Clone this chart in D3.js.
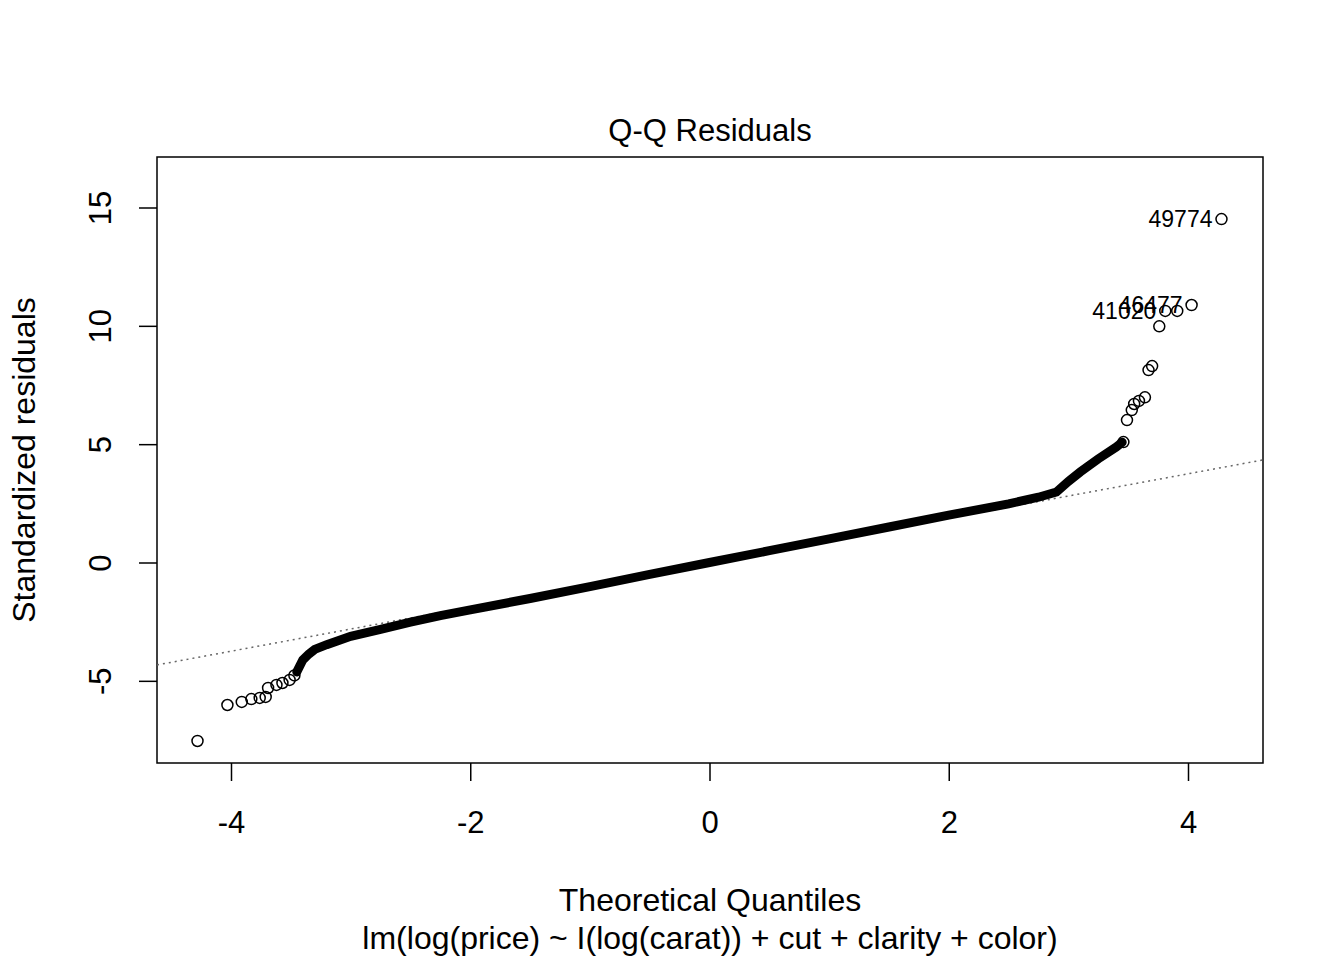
<!DOCTYPE html><html><head><script src="https://cdn.jsdelivr.net/npm/d3@7"></script>
<style>body{margin:0;background:#fff}text{font-family:"Liberation Sans",Arial,sans-serif}</style></head><body><svg id="c" width="1344" height="960"></svg><script>
const bandX=[-3.45,-3.4,-3.35,-3.3,-3.2,-3.0,-2.75,-2.5,-2.25,-2,-1.5,-1,-0.5,0,0.5,1,1.5,2,2.5,2.75,2.9,3.0,3.1,3.25,3.4,3.45];
const bandY=[-4.6,-4.1,-3.85,-3.65,-3.45,-3.1,-2.8,-2.5,-2.22,-1.98,-1.5,-1.0,-0.48,0.02,0.52,1.02,1.52,2.02,2.5,2.78,3.0,3.45,3.85,4.4,4.9,5.1];
const ptX=[-4.28,-4.03,-3.91,-3.83,-3.76,-3.71,-3.69,-3.62,-3.57,-3.51,-3.47,3.46,3.49,3.53,3.55,3.59,3.64,3.67,3.70,3.76,3.81,3.91,4.03,4.28];
const ptY=[-7.52,-6.0,-5.87,-5.75,-5.70,-5.66,-5.28,-5.15,-5.07,-4.94,-4.75,5.11,6.04,6.46,6.72,6.85,7.0,8.15,8.32,10.0,10.65,10.65,10.9,14.53];
const labels=[{x:4.28,y:14.53,t:"49774"},{x:4.03,y:10.9,t:"46477"},{x:3.81,y:10.65,t:"41020"}];
const xTicks=[-4,-2,0,2,4], yTicks=[-5,0,5,10,15];
const qqA=0.02,qqB=0.937;
const svg=d3.select("#c");
const L=157,R=1263,T=157,B=763;
const x=d3.scaleLinear().domain([-4,4]).range([231,1188]);
const y=d3.scaleLinear().domain([0,15]).range([563,208]);
svg.append("rect").attr("x",L).attr("y",T).attr("width",R-L).attr("height",B-T).attr("fill","none").attr("stroke","#000").attr("stroke-width",1.5);
svg.append("clipPath").attr("id","cp").append("rect").attr("x",L).attr("y",T).attr("width",R-L).attr("height",B-T);
const g=svg.append("g").attr("clip-path","url(#cp)");
const x0=x.invert(L),x1=x.invert(R);
g.append("line").attr("x1",L).attr("x2",R).attr("y1",y(qqA+qqB*x0)).attr("y2",y(qqA+qqB*x1)).attr("stroke","#666").attr("stroke-width",1.5).attr("stroke-dasharray","2,4");
g.append("path").datum(bandX.map((d,i)=>[d,bandY[i]])).attr("d",d3.line().x(d=>x(d[0])).y(d=>y(d[1]))).attr("fill","none").attr("stroke","#000").attr("stroke-width",9).attr("stroke-linecap","round");
g.selectAll("circle").data(ptX.map((d,i)=>[d,ptY[i]])).join("circle").attr("cx",d=>x(d[0])).attr("cy",d=>y(d[1])).attr("r",5.5).attr("fill","none").attr("stroke","#000").attr("stroke-width",1.5);
svg.selectAll(".lab").data(labels).join("text").attr("x",d=>x(d.x)-9).attr("y",d=>y(d.y)+8).attr("text-anchor","end").attr("font-size",23).text(d=>d.t);
const xa=svg.append("g").attr("transform",`translate(0,${B})`).call(d3.axisBottom(x).tickValues(xTicks).tickSize(18).tickPadding(30).tickFormat(d=>d<0?"-"+Math.abs(d):d));
const ya=svg.append("g").attr("transform",`translate(${L},0)`).call(d3.axisLeft(y).tickValues(yTicks).tickSize(18).tickFormat(d=>d<0?"-"+Math.abs(d):d));
[xa,ya].forEach(a=>{a.select(".domain").remove();a.selectAll("line").attr("stroke-width",1.5);a.selectAll("text").attr("font-size",31).attr("font-family","Liberation Sans, Arial");});
ya.selectAll(".tick").attr("transform",null);
ya.selectAll(".tick line").attr("y1",d=>y(d)).attr("y2",d=>y(d));
ya.selectAll(".tick text").attr("x",0).attr("y",0).attr("dy","0.35em").attr("text-anchor","middle").attr("transform",d=>`translate(-57,${y(d)}) rotate(-90)`);
svg.append("text").attr("x",710).attr("y",141).attr("text-anchor","middle").attr("font-size",31).text("Q-Q Residuals");
svg.append("text").attr("x",710).attr("y",911).attr("text-anchor","middle").attr("font-size",32).text("Theoretical Quantiles");
svg.append("text").attr("x",710).attr("y",949).attr("text-anchor","middle").attr("font-size",32).text("lm(log(price) ~ I(log(carat)) + cut + clarity + color)");
svg.append("text").attr("transform","translate(35,460) rotate(-90)").attr("text-anchor","middle").attr("font-size",32).text("Standardized residuals");
</script></body></html>
